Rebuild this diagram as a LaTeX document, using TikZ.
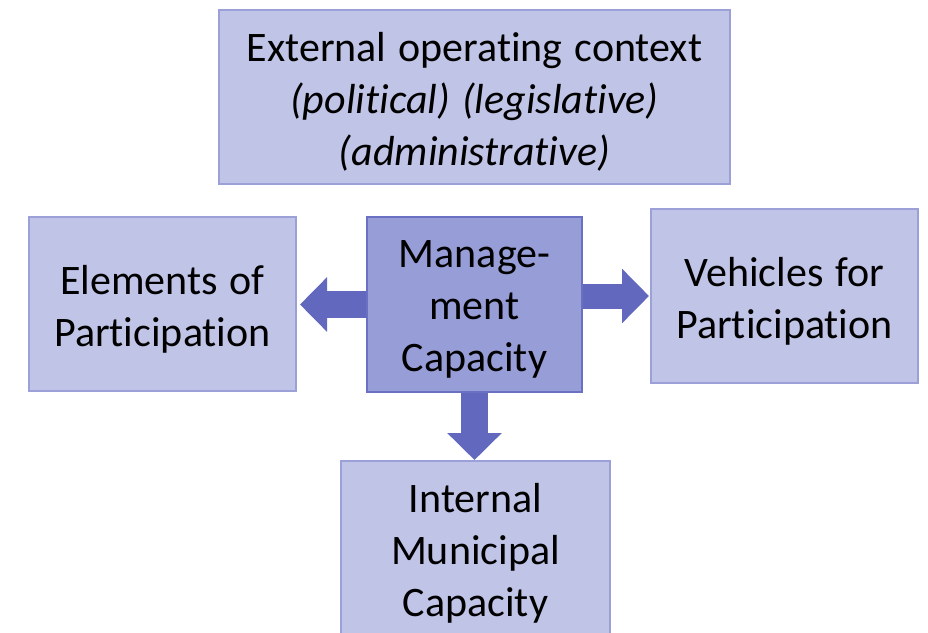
\documentclass[tikz,border=0pt]{standalone}
\usepackage{fontspec}
\setmainfont{Carlito}[Ligatures=NoCommon]
\usetikzlibrary{arrows.meta}
\definecolor{lightfill}{HTML}{C0C4E7}
\definecolor{lightborder}{HTML}{9BA0D8}
\definecolor{midfill}{HTML}{979DD6}
\definecolor{midborder}{HTML}{6A70C2}
\definecolor{arrowc}{HTML}{6168BE}
\newcommand{\boxfont}{\fontsize{42}{52}\selectfont\spaceskip=12pt plus 2pt minus 2pt\relax}
\newcommand{\boxtext}[2]{\raisebox{-5pt}[\height][\depth]{\parbox{#1}{\centering #2}}}
\tikzset{
  box/.style={draw=lightborder, fill=lightfill, line width=2pt, align=center,
    inner sep=0pt, font=\boxfont, text=black},
  midbox/.style={box, draw=midborder, fill=midfill},
  blockarrow/.style={draw=arrowc, line width=27pt,
    -{Triangle[length=27pt,width=53pt]}},
}
\begin{document}
\begin{tikzpicture}[x=1pt,y=-1pt]
\useasboundingbox (0,0) rectangle (928,632);
\node[box, minimum width=511pt, minimum height=174pt] (ext) at (474.5,97)
  {\boxtext{500pt}{External operating context\\\textit{(political) (legislative)}\\\textit{(administrative)}}};
\node[box, minimum width=267pt, minimum height=174pt] (ep) at (162.5,304)
  {\boxtext{260pt}{Elements of\\Participation}};
\node[midbox, minimum width=215pt, minimum height=175pt] (mc) at (474.5,304.5)
  {\boxtext{210pt}{Manage-\\ment\\Capacity}};
\node[box, minimum width=267pt, minimum height=174pt] (vp) at (784.5,296)
  {\boxtext{260pt}{Vehicles for\\Participation}};
\node[box, minimum width=269pt, minimum height=174pt] (imc) at (475.5,548)
  {\boxtext{260pt}{Internal\\Municipal\\Capacity}};
\draw[blockarrow, shorten >=3pt] (mc.west) -- (mc.west -| ep.east);
\draw[blockarrow, line width=25pt, shorten >=1pt] (mc.east |- vp.west) -- (vp.west);
\draw[blockarrow] (mc.south) -- (mc.south |- imc.north);
\end{tikzpicture}
\end{document}
